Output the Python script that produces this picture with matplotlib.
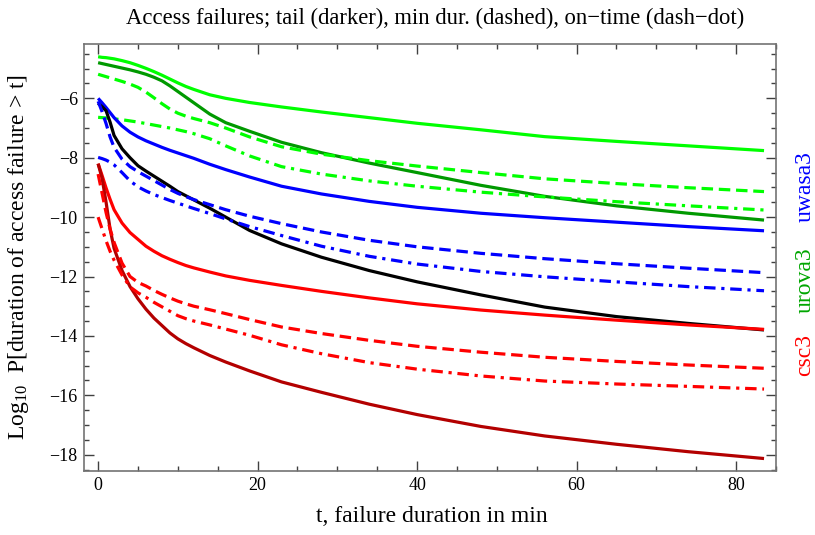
import matplotlib
matplotlib.use("Agg")
import matplotlib.pyplot as plt
from matplotlib.ticker import MultipleLocator

plt.rcParams['font.family'] = ['Liberation Serif', 'DejaVu Serif']
plt.rcParams['mathtext.fontset'] = 'custom'
plt.rcParams['mathtext.rm'] = 'Liberation Serif'
plt.rcParams['mathtext.it'] = 'Liberation Serif:italic'

# ---- data ----
t = [0, 0.5, 1, 1.5, 2, 3, 4, 5, 6, 7, 8, 9, 10, 11, 12, 14, 16, 19, 23, 28, 34, 40, 48, 56, 65, 74, 83.5]

urova3_all  = [-4.60, -4.62, -4.63, -4.65, -4.67, -4.73, -4.80, -4.89, -4.99, -5.10, -5.22, -5.35, -5.48, -5.60, -5.70, -5.88, -6.00, -6.14, -6.29, -6.46, -6.65, -6.84, -7.06, -7.29, -7.45, -7.60, -7.76]
urova3_tail = [-4.80, -4.83, -4.86, -4.89, -4.92, -4.98, -5.04, -5.11, -5.19, -5.29, -5.41, -5.58, -5.77, -5.96, -6.15, -6.53, -6.82, -7.11, -7.48, -7.83, -8.18, -8.50, -8.93, -9.30, -9.62, -9.87, -10.10]
urova3_min  = [-5.19, -5.23, -5.27, -5.31, -5.35, -5.43, -5.52, -5.63, -5.79, -5.98, -6.18, -6.36, -6.50, -6.60, -6.68, -6.82, -7.00, -7.30, -7.63, -7.88, -8.10, -8.28, -8.50, -8.71, -8.87, -9.01, -9.14]
urova3_ontm = [-6.64, -6.65, -6.66, -6.68, -6.69, -6.72, -6.76, -6.80, -6.85, -6.90, -6.95, -7.00, -7.06, -7.12, -7.19, -7.36, -7.60, -7.94, -8.30, -8.55, -8.78, -8.96, -9.16, -9.32, -9.48, -9.62, -9.76]

uwasa3_all  = [-6.00, -6.15, -6.31, -6.48, -6.65, -6.93, -7.14, -7.30, -7.43, -7.54, -7.65, -7.75, -7.84, -7.93, -8.02, -8.22, -8.40, -8.65, -8.96, -9.22, -9.47, -9.67, -9.87, -10.02, -10.17, -10.32, -10.46]
uwasa3_tail = [-6.17, -6.28, -6.42, -6.80, -7.25, -7.70, -8.00, -8.27, -8.45, -8.62, -8.79, -8.96, -9.14, -9.28, -9.42, -9.70, -10.00, -10.45, -10.90, -11.35, -11.80, -12.18, -12.62, -13.03, -13.35, -13.58, -13.80]
uwasa3_min  = [-6.10, -6.45, -6.85, -7.30, -7.65, -8.05, -8.30, -8.47, -8.62, -8.77, -8.92, -9.07, -9.20, -9.31, -9.41, -9.58, -9.75, -9.97, -10.22, -10.50, -10.78, -11.00, -11.22, -11.40, -11.57, -11.72, -11.87]
uwasa3_ontm = [-7.99, -8.03, -8.08, -8.15, -8.24, -8.50, -8.78, -8.98, -9.12, -9.24, -9.34, -9.44, -9.53, -9.62, -9.71, -9.88, -10.06, -10.32, -10.62, -10.98, -11.32, -11.58, -11.83, -12.01, -12.18, -12.34, -12.48]

csc3_all    = [-8.20, -8.60, -9.02, -9.40, -9.75, -10.20, -10.52, -10.75, -10.98, -11.15, -11.30, -11.42, -11.53, -11.63, -11.71, -11.85, -11.98, -12.13, -12.30, -12.50, -12.72, -12.92, -13.13, -13.30, -13.47, -13.63, -13.78]
csc3_tail   = [-8.20, -8.70, -9.50, -10.40, -11.05, -11.80, -12.34, -12.75, -13.10, -13.40, -13.65, -13.90, -14.10, -14.26, -14.40, -14.66, -14.88, -15.18, -15.55, -15.90, -16.30, -16.65, -17.05, -17.37, -17.65, -17.90, -18.13]
csc3_min    = [-8.55, -9.20, -9.85, -10.40, -10.85, -11.55, -12.00, -12.20, -12.32, -12.47, -12.60, -12.72, -12.83, -12.92, -13.00, -13.12, -13.25, -13.45, -13.70, -13.92, -14.15, -14.35, -14.55, -14.72, -14.86, -14.98, -15.09]
csc3_ontm   = [-10.00, -10.40, -10.80, -11.15, -11.45, -11.95, -12.35, -12.55, -12.70, -12.87, -13.02, -13.17, -13.32, -13.42, -13.50, -13.63, -13.77, -13.98, -14.30, -14.60, -14.90, -15.12, -15.35, -15.52, -15.62, -15.70, -15.79]

title = "Access failures; tail (darker), min dur. (dashed), on\u2212time (dash\u2212dot)"
xlabel = "t, failure duration in min"
ylabel = r"Log$_{10}$  P[duration of access failure > t]"
site_labels = ["uwasa3", "urova3", "csc3"]

# ---- styles ----
lw = 2.3
dashed = (0, (3.6, 1.8))
dashdot = (0, (3.6, 1.8, 1.0, 1.8))
green, dgreen = (0.0, 1.0, 0.0), (0.0, 0.6, 0.0)
blue, dblue = (0.0, 0.0, 1.0), (0.0, 0.0, 0.0)
red, dred = (1.0, 0.0, 0.0), (0.7, 0.0, 0.0)

fig = plt.figure(figsize=(8.15, 5.35), dpi=100)
ax = fig.add_axes([84/815, 1-471/535, 692/815, 427/535])

series = [
    (urova3_all, green, '-'), (urova3_tail, dgreen, '-'),
    (urova3_min, green, dashed), (urova3_ontm, green, dashdot),
    (uwasa3_all, blue, '-'), (uwasa3_tail, dblue, '-'),
    (uwasa3_min, blue, dashed), (uwasa3_ontm, blue, dashdot),
    (csc3_all, red, '-'), (csc3_tail, dred, '-'),
    (csc3_min, red, dashed), (csc3_ontm, red, dashdot),
]
for vals, col, ls in series:
    ax.plot(t, vals, color=col, lw=lw, linestyle=ls, solid_capstyle='butt',
            dash_capstyle='butt', solid_joinstyle='round')

ax.set_xlim(-1.77, 85.0)
ax.set_ylim(-18.55, -4.17)
ax.xaxis.set_major_locator(MultipleLocator(20))
ax.xaxis.set_minor_locator(MultipleLocator(5))
ax.yaxis.set_major_locator(MultipleLocator(2))
ax.yaxis.set_minor_locator(MultipleLocator(0.5))
ax.tick_params(which='both', direction='in', top=True, right=True, labeltop=False, labelright=False,
               color='0.25', labelsize=13, pad=4.5)
ax.tick_params(which='major', length=7, width=1)
ax.tick_params(which='minor', length=3.8, width=1)
for s in ax.spines.values():
    s.set_color('0.45')
    s.set_linewidth(1.2)

fig.text(435/815, 1-18/535, title, ha='center', va='center', fontsize=16.3)
fig.text(432/815, 1-517/535, xlabel, ha='center', va='center', fontsize=17)
fig.text(19/815, 1-257/535, ylabel, ha='center', va='center', rotation=90, fontsize=17)
for lab, col, yc in zip(site_labels, [blue, (0.0, 0.65, 0.0), red], [187, 280, 355]):
    fig.text(805/815, 1-yc/535, lab, ha='center', va='center', rotation=90, fontsize=17, color=col)

fig.savefig("out.png", dpi=100)
